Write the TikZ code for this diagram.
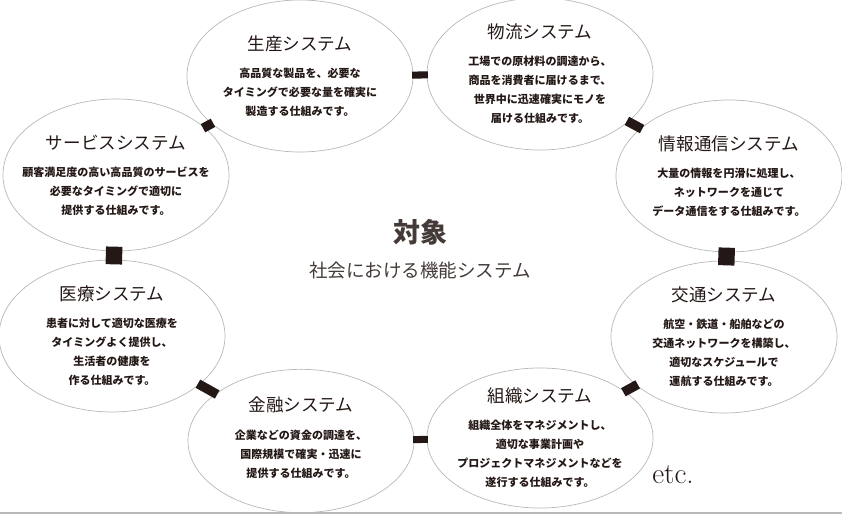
\documentclass[tikz,border=0pt]{standalone}
\usepackage{fontspec}
\usepackage{tikz}
\usetikzlibrary{shapes.geometric}
\newfontfamily\jp{Noto Sans CJK JP}
\definecolor{ink}{HTML}{231815}
\definecolor{rim}{HTML}{B8B8B8}
\newcommand{\systitle}[1]{{\mdseries\fontsize{15}{16}\selectfont #1}\\[7pt]}

\begin{document}
\begin{tikzpicture}[x=0.03cm,y=-0.03cm,
	sys/.style={ellipse,draw=rim,line width=0.6pt,minimum width=6.78cm,minimum height=4.56cm,inner sep=0pt},
	systext/.style={align=center,text=ink,font=\jp\bfseries\fontsize{9.4}{16.2}\selectfont},
	link/.style={draw=ink,line width=6pt,shorten <=-1pt,shorten >=-1pt},
	diag/.style={line width=8pt,shorten <=-1.5pt,shorten >=-1.5pt},
	vert/.style={line width=14pt,shorten <=-4pt,shorten >=-4pt}]
	\useasboundingbox (0,0) rectangle (842,515);
	\node [sys] (seisan) at (300,76) {};
	\node [sys] (butsuryu) at (540,74) {};
	\node [sys] (service) at (116,175) {};
	\node [sys] (joho) at (729,176) {};
	\node [sys] (iryo) at (112,336) {};
	\node [sys] (kotsu) at (724,337) {};
	\node [sys,minimum height=4.3cm] (kinyu) at (301,441) {};
	\node [sys,minimum height=4.2cm] (soshiki) at (540,438) {};
	%
	\node [systext] (seisan-t) at (seisan) {\systitle{生産システム}高品質な製品を、必要な\\タイミングで必要な量を確実に\\製造する仕組みです。};
	\node [systext] (butsuryu-t) at (butsuryu) {\systitle{物流システム}工場での原材料の調達から、\\商品を消費者に届けるまで、\\世界中に迅速確実にモノを\\届ける仕組みです。};
	\node [systext] (service-t) at (service) {\systitle{サービスシステム}顧客満足度の高い高品質のサービスを\\必要なタイミングで適切に\\提供する仕組みです。};
	\node [systext] (joho-t) at (joho) {\systitle{情報通信システム}大量の情報を円滑に処理し、\\ネットワークを通じて\\データ通信をする仕組みです。};
	\node [systext] (iryo-t) at (iryo) {\systitle{医療システム}患者に対して適切な医療を\\タイミングよく提供し、\\生活者の健康を\\作る仕組みです。};
	\node [systext] (kotsu-t) at (kotsu) {\systitle{交通システム}航空・鉄道・船舶などの\\交通ネットワークを構築し、\\適切なスケジュールで\\運航する仕組みです。};
	\node [systext] (kinyu-t) at ([yshift=0.1cm]kinyu) {\systitle{金融システム}企業などの資金の調達を、\\国際規模で確実・迅速に\\提供する仕組みです。};
	\node [systext] (soshiki-t) at (soshiki) {\systitle{組織システム}組織全体をマネジメントし、\\適切な事業計画や\\プロジェクトマネジメントなどを\\遂行する仕組みです。};
	%
	\node [text=ink!85,font=\jp\bfseries\fontsize{23}{26}\selectfont] (taisho) at (420,232) {対象};
	\node [text=ink!85,font=\jp\fontsize{15.8}{18}\selectfont] (kino) at (420,270) {社会における機能システム};
	\node [text=ink,font=\fontsize{25}{28}\selectfont] (etc) at (673,475) {etc.};
	%
	\draw [link] (seisan) -- (butsuryu);
	\draw [link,diag] (seisan) -- (service);
	\draw [link,diag] (butsuryu) -- (joho);
	\draw [link,vert] (service) -- (iryo);
	\draw [link,vert] (joho) -- (kotsu);
	\draw [link,diag] (iryo) -- (kinyu);
	\draw [link,diag] (kotsu) -- (soshiki);
	\draw [link] (kinyu) -- (soshiki);
	%
	\draw [gray!55,line width=1.5pt] (0,513) -- (842,513);
\end{tikzpicture}
\end{document}
